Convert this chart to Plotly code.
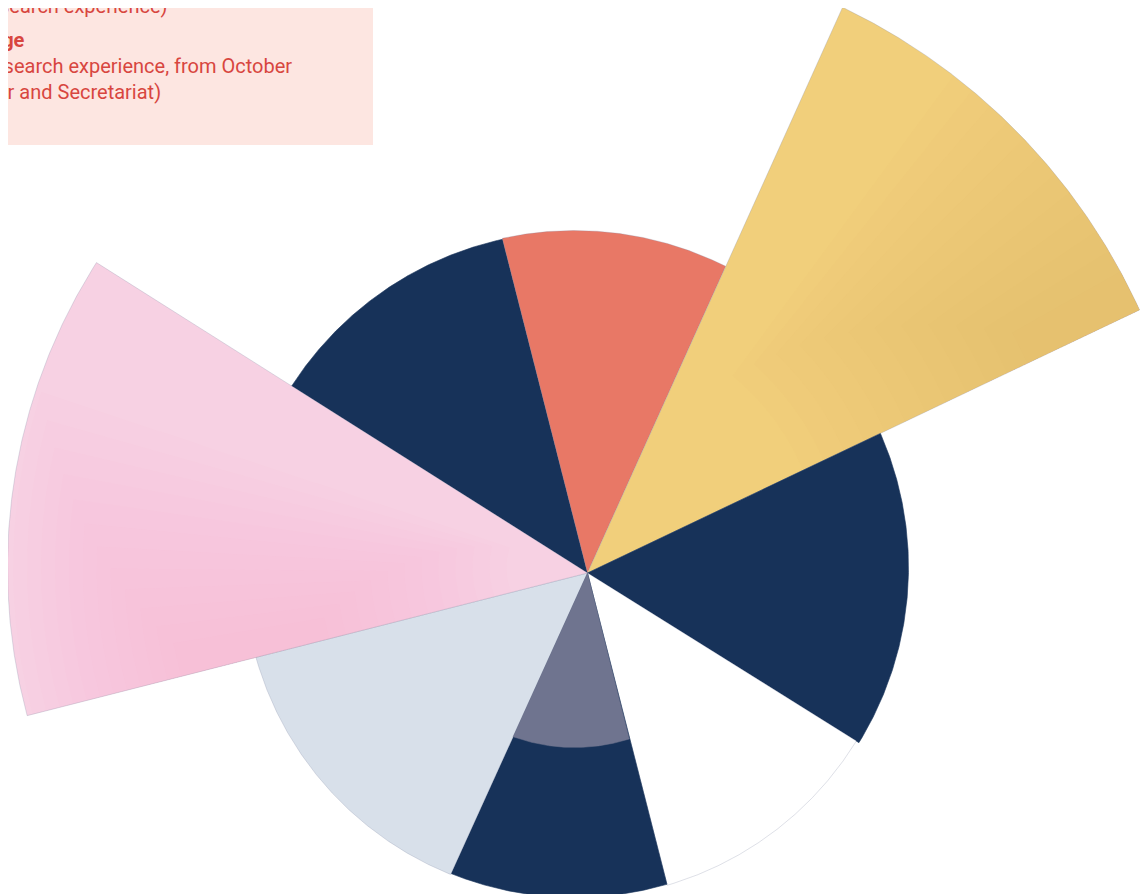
import numpy as np
import plotly.graph_objects as go

# ---- data ----
categories = ["A", "B", "C", "D", "E", "F", "G", "H"]
shares = [12.06, 10.71, 11.18, 15.97, 12.13, 10.76, 14.25, 12.94]   # % of the circle
radii = [33.6, 33.7, 62.1, 33.4, 33.1, 33.0, 33.1, 56.7]          # radial value
colors = ["#173259", "#e87866", "#f1cf7b", "#173259", "#ffffff", "#173259", "#d8e0ea", "#f7d1e3"]
inner_category = "F"
inner_radius = 18.0
inner_color = "#6f748f"
start_angle = 302.3  # degrees clockwise from north

legend_lines = [
    ("search experience)", False),
    ("rge", True),
    ("esearch experience, from October", False),
    ("er and Secretariat)", False),
]

# ---- geometry / page ----
PAGE_OFF = 8                       # default body margin of the html page
W, H = 1148 - PAGE_OFF, 894 - PAGE_OFF
APEX_PX = (587.5 - PAGE_OFF, 573.0 - PAGE_OFF)
PX_PER_UNIT = 10.0
ARC_CENTER = (-1.3, 0.55)          # arc centre offset relative to apex (data units)


def ray_circle(theta_deg, r):
    th = np.radians(np.atleast_1d(theta_deg))
    ux, uy = np.sin(th), np.cos(th)
    cx, cy = ARC_CENTER
    b = ux * cx + uy * cy
    t = b + np.sqrt(b * b - (cx * cx + cy * cy) + r * r)
    return t * ux, t * uy


def wedge(t0, t1, r, n=200):
    th = np.linspace(t0, t1, n)
    x, y = ray_circle(th, r)
    return np.concatenate([[0], x, [0]]), np.concatenate([[0], y, [0]])


def band(t0, t1, r0, r1, n=120):
    th = np.linspace(t0, t1, n)
    xo, yo = ray_circle(th, r1)
    xi, yi = ray_circle(th[::-1], r0)
    return np.concatenate([xo, xi, xo[:1]]), np.concatenate([yo, yi, yo[:1]])


fig = go.Figure()
total = sum(shares)
bounds = {}
a = start_angle
edge = "rgba(130,140,165,0.45)"
for cat, s, r, col in zip(categories, shares, radii, colors):
    w = s / total * 360.0
    bounds[cat] = (a, a + w)
    xs, ys = wedge(a, a + w, r)
    fig.add_trace(go.Scatter(
        x=xs, y=ys, mode="lines", fill="toself", fillcolor=col,
        line=dict(color=edge if col != "#173259" else col, width=0.6),
        name=cat, hoverinfo="name", showlegend=False))
    a += w

# speckle-like shading on the two large wedges (soft gradient of thin tints)
N_STEPS = 12
tex = {
    # (tint, (fa start,end), (fb start,end), (ra start,end), (rb start,end))
    "C": ("rgba(240,178,96,0.04)", (0.30, 0.90), (1.0, 1.0), (0.40, 0.80), (1.0, 1.0)),
    "H": ("rgba(242,172,206,0.035)", (0.0, 0.0), (0.70, 0.10), (0.12, 0.45), (0.99, 0.72)),
}
for cat, (tint, fa, fb, ra, rb) in tex.items():
    t0, t1 = bounds[cat]
    r = radii[categories.index(cat)]
    w = t1 - t0
    for k in np.linspace(0, 1, N_STEPS):
        a0 = t0 + w * (fa[0] + (fa[1] - fa[0]) * k)
        a1 = t0 + w * (fb[0] + (fb[1] - fb[0]) * k)
        r0 = r * (ra[0] + (ra[1] - ra[0]) * k)
        r1 = r * (rb[0] + (rb[1] - rb[0]) * k)
        xs, ys = band(a0, a1, r0, r1)
        fig.add_trace(go.Scatter(
            x=xs, y=ys, mode="lines", fill="toself", fillcolor=tint,
            line=dict(width=0), hoverinfo="skip", showlegend=False))

# inner segment
t0, t1 = bounds[inner_category]
xs, ys = wedge(t0, t1, inner_radius)
fig.add_trace(go.Scatter(
    x=xs, y=ys, mode="lines", fill="toself", fillcolor=inner_color,
    line=dict(color=inner_color, width=0.5),
    name=inner_category + " (inner)", hoverinfo="name", showlegend=False))

# ---- legend box ----
fig.add_shape(type="rect", xref="paper", yref="paper",
              x0=0, x1=(373 - PAGE_OFF) / W, y0=1 - (145 - PAGE_OFF) / H, y1=1,
              fillcolor="#fde6e1", line=dict(width=0), layer="above")
ys_px = [6, 40, 66, 92]           # reference page pixels (line centres)
rights = [170, 27, 294, 163]
for (txt, bold), ypx, xr in zip(legend_lines, ys_px, rights):
    fig.add_annotation(
        xref="paper", yref="paper", x=(xr - PAGE_OFF) / W, y=1 - (ypx - PAGE_OFF) / H,
        xanchor="right", yanchor="middle", showarrow=False,
        text=f"<b>{txt}</b>" if bold else txt,
        font=dict(family="Roboto", size=20, color="#d8463f"))

fig.update_layout(
    width=W, height=H, margin=dict(l=0, r=0, t=0, b=0),
    paper_bgcolor="white", plot_bgcolor="white",
    xaxis=dict(range=[-APEX_PX[0] / PX_PER_UNIT, (W - APEX_PX[0]) / PX_PER_UNIT],
               visible=False, fixedrange=True),
    yaxis=dict(range=[-(H - APEX_PX[1]) / PX_PER_UNIT, APEX_PX[1] / PX_PER_UNIT],
               visible=False, fixedrange=True),
    showlegend=False,
)
fig.write_html("out.html")
